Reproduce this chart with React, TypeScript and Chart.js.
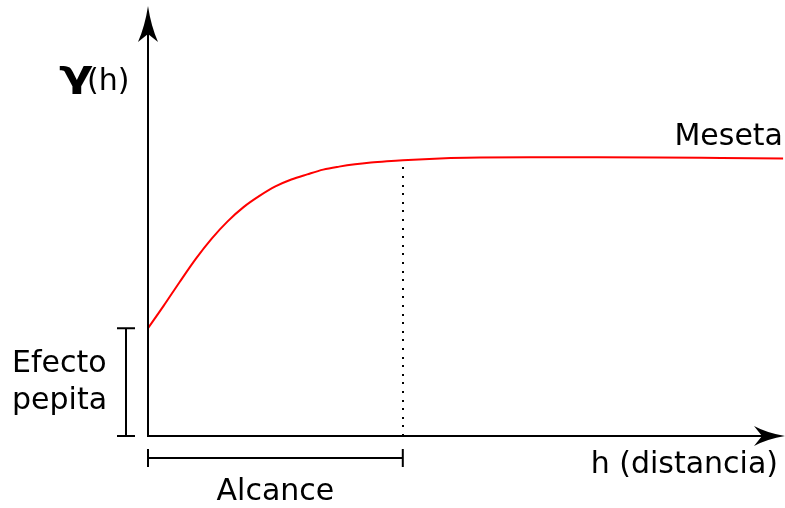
import React, { useEffect, useRef } from "react";
import { Chart, registerables } from "chart.js";

Chart.register(...registerables);

// Distance (h) and semivariance gamma(h)
const distancias = [0, 0.25, 0.5, 0.75, 1.0, 1.25, 1.5, 1.75, 2.0, 2.25, 2.5, 2.75, 3.0, 3.25, 3.5, 3.75, 4.0, 4.5, 5.0, 6.0, 7.0, 8.0, 9.0, 9.97];
const gammas = [2.5, 3.03, 3.58, 4.11, 4.58, 4.98, 5.31, 5.57, 5.79, 5.95, 6.07, 6.18, 6.25, 6.305, 6.345, 6.375, 6.4, 6.435, 6.455, 6.465, 6.465, 6.46, 6.45, 6.44];

const pepita = 2.5; // nugget effect
const alcance = 4.0; // range
const xMax = 10;
const yMax = 10;

const etiquetaMeseta = "Meseta";
const etiquetaEjeX = "h (distancia)";
const etiquetaAlcance = "Alcance";
const etiquetaPepita = ["Efecto", "pepita"];
const etiquetaGamma = "γ";
const etiquetaGammaH = "(h)";

const FONT = '"DejaVu Sans", sans-serif';

const diagramPlugin = {
  id: "variogramDiagram",
  afterDatasetsDraw(chart: any) {
    const { ctx } = chart;
    const xs = chart.scales.x;
    const ys = chart.scales.y;
    const x0 = xs.getPixelForValue(0);
    const y0 = ys.getPixelForValue(0);
    const xEnd = xs.getPixelForValue(xMax);
    const yTop = ys.getPixelForValue(yMax);
    const xR = xs.getPixelForValue(alcance);
    const yN = ys.getPixelForValue(pepita);
    const idx = distancias.indexOf(alcance);
    const yR = ys.getPixelForValue(gammas[idx]);

    ctx.save();
    // dotted range line (square dots)
    ctx.fillStyle = "#000";
    for (let y = y0 - 1; y > yR + 2; y -= 8.6) {
      ctx.fillRect(Math.round(xR) - 1, Math.round(y) - 1, 2, 2);
    }

    // axes
    ctx.strokeStyle = "#000";
    ctx.lineWidth = 2;
    ctx.beginPath();
    ctx.moveTo(x0, y0);
    ctx.lineTo(x0, yTop + 28);
    ctx.moveTo(x0 - 1, y0);
    ctx.lineTo(xEnd - 22, y0);
    ctx.stroke();

    // arrowheads
    ctx.fillStyle = "#000";
    ctx.beginPath();
    ctx.moveTo(x0, yTop + 1);
    ctx.quadraticCurveTo(x0 + 3, yTop + 21, x0 + 10, yTop + 37);
    ctx.lineTo(x0, yTop + 29);
    ctx.lineTo(x0 - 10, yTop + 37);
    ctx.quadraticCurveTo(x0 - 3, yTop + 21, x0, yTop + 1);
    ctx.closePath();
    ctx.fill();

    ctx.beginPath();
    ctx.moveTo(xEnd, y0);
    ctx.quadraticCurveTo(xEnd - 18, y0 - 3, xEnd - 31, y0 - 10);
    ctx.lineTo(xEnd - 23, y0);
    ctx.lineTo(xEnd - 31, y0 + 10);
    ctx.quadraticCurveTo(xEnd - 18, y0 + 3, xEnd, y0);
    ctx.closePath();
    ctx.fill();

    // nugget bracket
    const bx = x0 - 22;
    ctx.lineWidth = 2;
    ctx.beginPath();
    ctx.moveTo(bx, yN);
    ctx.lineTo(bx, y0);
    ctx.moveTo(bx - 9, yN);
    ctx.lineTo(bx + 9, yN);
    ctx.moveTo(bx - 9, y0);
    ctx.lineTo(bx + 9, y0);
    ctx.stroke();

    // range bracket
    const by = y0 + 22;
    ctx.beginPath();
    ctx.moveTo(x0, by);
    ctx.lineTo(xR, by);
    ctx.moveTo(x0, by - 9);
    ctx.lineTo(x0, by + 9);
    ctx.moveTo(xR, by - 9);
    ctx.lineTo(xR, by + 9);
    ctx.stroke();

    // texts
    ctx.fillStyle = "#000";
    ctx.font = `30px ${FONT}`;
    ctx.textBaseline = "alphabetic";
    ctx.textAlign = "right";
    ctx.fillText(etiquetaMeseta, 783, 145);
    ctx.fillText(etiquetaEjeX, 778, 473);
    ctx.textAlign = "center";
    ctx.fillText(etiquetaAlcance, (x0 + xR) / 2, 500);
    ctx.textAlign = "left";
    ctx.fillText(etiquetaPepita[0], 12, 372);
    ctx.fillText(etiquetaPepita[1], 12, 409);
    ctx.fillText(etiquetaGammaH, 87, 90);
    ctx.save();
    ctx.translate(59, 86);
    ctx.scale(1.32, 1);
    ctx.font = `bold 38px ${FONT}`;
    ctx.fillText(etiquetaGamma, 0, 0);
    ctx.restore();
    ctx.restore();
  },
};

export default function App() {
  const ref = useRef<HTMLCanvasElement | null>(null);
  useEffect(() => {
    document.body.style.margin = "0";
    const canvas = ref.current;
    if (!canvas) return;
    const chart = new Chart(canvas, {
      type: "line",
      data: {
        datasets: [
          {
            data: distancias.map((d, i) => ({ x: d, y: gammas[i] })),
            borderColor: "#ff0000",
            borderWidth: 2,
            pointRadius: 0,
            cubicInterpolationMode: "monotone",
            fill: false,
          },
        ],
      },
      options: {
        animation: false,
        responsive: false,
        devicePixelRatio: 1,
        layout: { padding: { left: 148, right: 0, top: 5, bottom: 72 } },
        plugins: { legend: { display: false }, tooltip: { enabled: false } },
        scales: {
          x: { type: "linear", min: 0, max: xMax, display: false },
          y: { type: "linear", min: 0, max: yMax, display: false },
        },
      },
      plugins: [diagramPlugin],
    } as any);
    return () => chart.destroy();
  }, []);
  return (
    <div style={{ position: "fixed", left: 0, top: 0, width: 785, height: 508, background: "#fff" }}>
      <canvas ref={ref} width={785} height={508} />
    </div>
  );
}
